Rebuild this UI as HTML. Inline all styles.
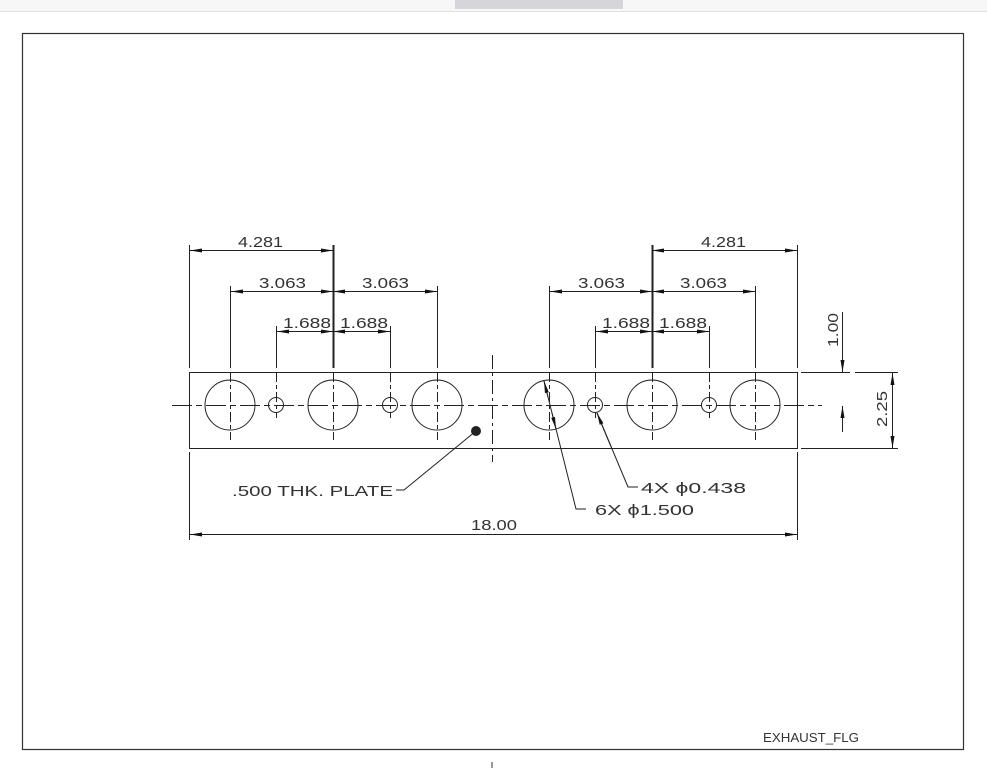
<!DOCTYPE html>
<html><head><meta charset="utf-8"><style>
html,body{margin:0;padding:0;background:#fff;width:987px;height:768px;overflow:hidden}
svg{display:block}
text{font-family:"Liberation Sans",sans-serif;font-size:15px;fill:#333}
</style></head><body>
<svg width="987" height="768" viewBox="0 0 987 768" xmlns="http://www.w3.org/2000/svg">
<defs>
<marker id="a" viewBox="0 0 12 4" refX="12" refY="2" markerWidth="12" markerHeight="4" markerUnits="userSpaceOnUse" orient="auto-start-reverse"><path d="M0,0 L12,2 L0,4 z" fill="#111"/></marker>
</defs>
<rect x="0" y="0" width="987" height="11" fill="#f7f7f8"/>
<rect x="455" y="0" width="168" height="9" fill="#d6d6da"/>
<line x1="0" y1="11.5" x2="987" y2="11.5" stroke="#e2e2e2"/>
<rect x="22.5" y="33.5" width="941" height="716" fill="none" stroke="#333" stroke-width="1.2"/>
<line x1="492" y1="762" x2="492" y2="768" stroke="#333"/>
<g stroke="#222" stroke-width="1" fill="none">
<rect x="189.5" y="372.5" width="608" height="76"/>
<line x1="492.5" y1="355" x2="492.5" y2="462" stroke-dasharray="14,4,3,4"/>
<line x1="172" y1="405.5" x2="822" y2="405.5" stroke-dasharray="20,4,6,4"/>
<g>
<circle cx="230" cy="405" r="25"/><circle cx="333" cy="405" r="25"/><circle cx="437" cy="405" r="25"/>
<circle cx="549" cy="405" r="25"/><circle cx="652" cy="405" r="25"/><circle cx="755" cy="405" r="25"/>
<circle cx="276" cy="405" r="7.5"/><circle cx="390" cy="405" r="7.5"/><circle cx="595" cy="405" r="7.5"/><circle cx="709" cy="405" r="7.5"/>
</g>
<g stroke-dasharray="10,3,4,3">
<line x1="230.5" y1="372" x2="230.5" y2="440"/><line x1="437.5" y1="372" x2="437.5" y2="440"/>
<line x1="549.5" y1="372" x2="549.5" y2="440"/><line x1="755.5" y1="372" x2="755.5" y2="440"/>
<line x1="333.5" y1="372" x2="333.5" y2="440"/><line x1="652.5" y1="372" x2="652.5" y2="440"/>
<line x1="276.5" y1="372" x2="276.5" y2="418"/><line x1="390.5" y1="372" x2="390.5" y2="418"/>
<line x1="595.5" y1="372" x2="595.5" y2="418"/><line x1="709.5" y1="372" x2="709.5" y2="418"/>
</g>
<line x1="189.5" y1="245" x2="189.5" y2="368"/>
<line x1="230.5" y1="286" x2="230.5" y2="368"/>
<line x1="276.5" y1="326" x2="276.5" y2="368"/>
<line x1="333.5" y1="245" x2="333.5" y2="368" stroke-width="2"/>
<line x1="390.5" y1="326" x2="390.5" y2="368"/>
<line x1="437.5" y1="286" x2="437.5" y2="368"/>
<line x1="549.5" y1="286" x2="549.5" y2="368"/>
<line x1="595.5" y1="326" x2="595.5" y2="368"/>
<line x1="652.5" y1="245" x2="652.5" y2="368" stroke-width="2"/>
<line x1="709.5" y1="326" x2="709.5" y2="368"/>
<line x1="755.5" y1="286" x2="755.5" y2="368"/>
<line x1="797.5" y1="245" x2="797.5" y2="368"/>
<g marker-start="url(#a)" marker-end="url(#a)">
<line x1="190" y1="250.5" x2="333" y2="250.5"/>
<line x1="231" y1="291.5" x2="333" y2="291.5"/>
<line x1="333" y1="291.5" x2="437" y2="291.5"/>
<line x1="277" y1="331.5" x2="333" y2="331.5"/>
<line x1="333" y1="331.5" x2="390" y2="331.5"/>
<line x1="652" y1="250.5" x2="797" y2="250.5"/>
<line x1="550" y1="291.5" x2="652" y2="291.5"/>
<line x1="652" y1="291.5" x2="755" y2="291.5"/>
<line x1="596" y1="331.5" x2="652" y2="331.5"/>
<line x1="652" y1="331.5" x2="709" y2="331.5"/>
<line x1="190" y1="534.5" x2="797" y2="534.5"/>
<line x1="892.5" y1="373" x2="892.5" y2="448"/>
</g>
<line x1="189.5" y1="452" x2="189.5" y2="540"/>
<line x1="797.5" y1="452" x2="797.5" y2="540"/>
<line x1="801" y1="372.5" x2="850" y2="372.5"/>
<line x1="801" y1="448.5" x2="898" y2="448.5"/>
<line x1="855" y1="372.5" x2="898" y2="372.5"/>
<line x1="842.5" y1="312" x2="842.5" y2="372" marker-end="url(#a)"/>
<line x1="842.5" y1="432" x2="842.5" y2="406" marker-end="url(#a)"/>
<polyline points="396,490 404,490 476,431"/>
<circle cx="476" cy="431" r="4.5" fill="#222"/>
<polyline points="638,487 628,487 597,413" />
<line x1="612" y1="449" x2="597" y2="413" marker-end="url(#a)"/>
<polyline points="586,509 576,509 544,381"/>
<line x1="548" y1="397" x2="544" y2="381" marker-end="url(#a)"/>
<line x1="552" y1="413" x2="556" y2="429" marker-end="url(#a)"/>
</g>
<g>
<text x="238" y="247" textLength="45" lengthAdjust="spacingAndGlyphs">4.281</text>
<text x="259" y="288" textLength="47" lengthAdjust="spacingAndGlyphs">3.063</text>
<text x="362" y="288" textLength="47" lengthAdjust="spacingAndGlyphs">3.063</text>
<text x="283" y="328" textLength="48" lengthAdjust="spacingAndGlyphs">1.688</text>
<text x="340" y="328" textLength="48" lengthAdjust="spacingAndGlyphs">1.688</text>
<text x="701" y="247" textLength="45" lengthAdjust="spacingAndGlyphs">4.281</text>
<text x="578" y="288" textLength="47" lengthAdjust="spacingAndGlyphs">3.063</text>
<text x="680" y="288" textLength="47" lengthAdjust="spacingAndGlyphs">3.063</text>
<text x="602" y="328" textLength="48" lengthAdjust="spacingAndGlyphs">1.688</text>
<text x="659" y="328" textLength="48" lengthAdjust="spacingAndGlyphs">1.688</text>
<text x="471" y="530" textLength="46" lengthAdjust="spacingAndGlyphs">18.00</text>
<text x="232" y="496" textLength="161" lengthAdjust="spacingAndGlyphs">.500 THK. PLATE</text>
<text x="641" y="493" textLength="105" lengthAdjust="spacingAndGlyphs">4X ϕ0.438</text>
<text x="595" y="515" textLength="99" lengthAdjust="spacingAndGlyphs">6X ϕ1.500</text>
<text transform="translate(838,347) rotate(-90)" textLength="34" lengthAdjust="spacingAndGlyphs">1.00</text>
<text transform="translate(887,427) rotate(-90)" textLength="36" lengthAdjust="spacingAndGlyphs">2.25</text>
<text x="763" y="742" style="font-size:13px" textLength="96" lengthAdjust="spacingAndGlyphs">EXHAUST_FLG</text>
</g>
</svg>
</body></html>
